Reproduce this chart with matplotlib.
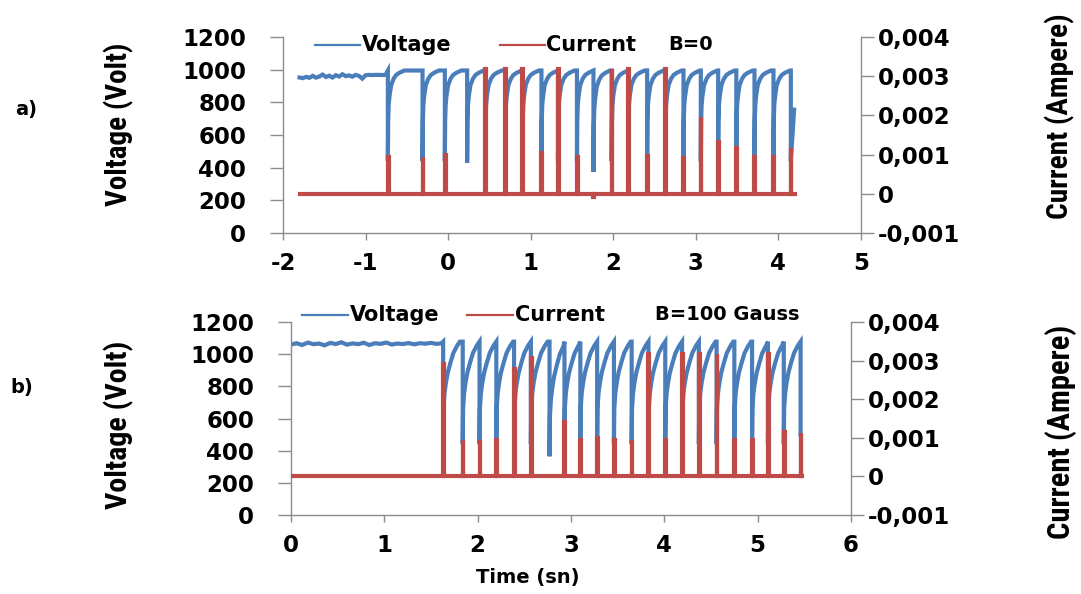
import matplotlib
matplotlib.use('Agg')
import matplotlib.pyplot as plt
from matplotlib.lines import Line2D
from matplotlib import font_manager as fm

plt.rcParams['axes.unicode_minus'] = False
plt.rcParams['font.family'] = ['DejaVu Sans']
plt.rcParams['font.weight'] = 'bold'

# ---------------- data: panel a (B=0) ----------------
a_flat_t = [-1.80, -1.76, -1.72, -1.68, -1.64, -1.60, -1.56, -1.52, -1.48, -1.44,
            -1.40, -1.36, -1.32, -1.28, -1.24, -1.20, -1.16, -1.12, -1.08, -1.04,
            -1.00, -0.96, -0.92, -0.88, -0.84, -0.80, -0.76]
a_flat_v = [952, 948, 956, 950, 962, 951, 958, 970, 955, 963,
            952, 966, 958, 972, 960, 965, 957, 968, 962, 945,
            966, 968, 967, 968, 968, 967, 968]
a_drop_t = [-0.73, -0.31, -0.04, 0.23, 0.45, 0.69, 0.90, 1.13, 1.33, 1.56, 1.76,
            1.98, 2.18, 2.41, 2.63, 2.85, 3.06, 3.27, 3.49, 3.71, 3.94, 4.15]
a_min_v = [440, 440, 440, 430, 440, 440, 440, 440, 440, 440, 375,
           440, 440, 440, 440, 440, 440, 440, 440, 440, 440, 440]
a_spike_i = [0.00094, 0.00094, 0.00099, 0.0, 0.00318, 0.00318, 0.00318, 0.00104, 0.00318,
             0.00094, -0.00007, 0.00318, 0.00318, 0.00097, 0.00318, 0.00091, 0.00195,
             0.00131, 0.00118, 0.00094, 0.00094, 0.00118]
a_peak_v = 995
a_rec_dt = [0.004, 0.01, 0.02, 0.04, 0.07, 0.10, 0.14, 0.20]
a_rec_frac = [0.45, 0.62, 0.72, 0.84, 0.91, 0.95, 0.975, 1.0]
a_end_t, a_end_v = 4.19, 755
a_cur_start, a_cur_end = -1.80, 4.20

# ---------------- data: panel b (B=100 Gauss) ----------------
b_flat_t = [0.00, 0.06, 0.12, 0.18, 0.24, 0.30, 0.36, 0.42, 0.48, 0.54,
            0.60, 0.66, 0.72, 0.78, 0.84, 0.90, 0.96, 1.02, 1.08, 1.14,
            1.20, 1.26, 1.32, 1.38, 1.44, 1.50, 1.56, 1.61]
b_flat_v = [1060, 1068, 1057, 1072, 1062, 1066, 1055, 1070, 1063, 1074,
            1059, 1067, 1062, 1071, 1057, 1068, 1064, 1072, 1060, 1066,
            1063, 1069, 1061, 1068, 1065, 1070, 1064, 1067]
b_drop_t = [1.63, 1.84, 2.02, 2.20, 2.39, 2.57, 2.77, 2.93, 3.10, 3.28, 3.46,
            3.65, 3.83, 4.01, 4.19, 4.37, 4.56, 4.75, 4.94, 5.11, 5.28, 5.46]
b_min_v = [440, 440, 440, 440, 440, 440, 365, 440, 440, 440, 440,
           440, 440, 440, 440, 440, 440, 440, 440, 440, 440, 500]
b_spike_i = [0.00290, 0.00094, 0.00094, 0.00094, 0.00278, 0.00306, 0.0, 0.00142,
             0.00094, 0.00099, 0.00094, 0.00094, 0.00318, 0.00094, 0.00318, 0.00318,
             0.00318, 0.00094, 0.00094, 0.00318, 0.00116, 0.00113]
b_peak_v = 1078
b_rec_dt = [0.004, 0.015, 0.03, 0.05, 0.08, 0.11, 0.15, 0.18]
b_rec_frac = [0.35, 0.50, 0.60, 0.70, 0.80, 0.89, 0.96, 1.0]
b_end_t, b_end_v = None, None
b_cur_start, b_cur_end = 0.0, 5.48

# ---------------- axis labels / ticks ----------------
v_ticks = [0, 200, 400, 600, 800, 1000, 1200]
i_ticks = [-0.001, 0, 0.001, 0.002, 0.003, 0.004]
i_tick_labels = ['-0,001', '0', '0,001', '0,002', '0,003', '0,004']
a_xticks = [-2, -1, 0, 1, 2, 3, 4, 5]
b_xticks = [0, 1, 2, 3, 4, 5, 6]

BLUE = '#4A7EBB'
RED = '#BE4B48'
GRAY = '#8C8C8C'
W, H = 1081, 594


def pick_narrow():
    for fam in ['Liberation Sans Narrow', 'DejaVu Sans Condensed', 'Roboto Condensed',
                'Open Sans Condensed', 'Noto Sans Condensed']:
        try:
            fm.findfont(fm.FontProperties(family=fam, weight='bold'),
                        fallback_to_default=False)
            return fam, 'normal'
        except Exception:
            pass
    for fam in ['DejaVu Sans', 'Noto Sans', 'Open Sans']:
        try:
            f = fm.findfont(fm.FontProperties(family=fam, weight='bold', stretch='condensed'),
                            fallback_to_default=False)
            if 'ondensed' in f or 'arrow' in f:
                return fam, 'condensed'
        except Exception:
            pass
    return 'Roboto', 'normal'


NARROW_FAM, NARROW_STRETCH = pick_narrow()


def voltage_path(flat_t, flat_v, drop_t, min_v, peak_v, rec_dt, rec_frac, end_t, end_v):
    t = list(flat_t)
    v = list(flat_v)
    n = len(drop_t)
    for i in range(n):
        T, m = drop_t[i], min_v[i]
        t += [T, T]
        v += [peak_v, m]
        if i < n - 1:
            period = drop_t[i + 1] - T
            for dt, f in zip(rec_dt, rec_frac):
                if dt < period - 0.002:
                    t.append(T + dt)
                    v.append(m + f * (peak_v - m))
    if end_t is not None:
        t.append(end_t)
        v.append(end_v)
    return t, v


def current_path(start, end, drop_t, spike_i, w):
    t = [start]
    c = [0.0]
    for T, h in zip(drop_t, spike_i):
        t += [T, T, T + w, T + w]
        c += [0.0, h, h, 0.0]
    t.append(end)
    c.append(0.0)
    return t, c


def style_axes(ax, axr, xlim, xticks):
    ax.set_xlim(*xlim)
    ax.set_ylim(0, 1200)
    axr.set_ylim(-0.001, 0.004)
    ax.set_xticks(xticks)
    ax.set_xticklabels([str(x) for x in xticks])
    ax.set_yticks(v_ticks)
    ax.set_yticklabels([str(v) for v in v_ticks])
    axr.set_yticks(i_ticks)
    axr.set_yticklabels(i_tick_labels)
    for a in (ax, axr):
        for s in a.spines.values():
            s.set_color(GRAY)
            s.set_linewidth(1.0)
        a.spines['top'].set_visible(False)
    ax.spines['right'].set_visible(False)
    axr.spines['left'].set_visible(False)
    axr.spines['bottom'].set_visible(False)
    ax.tick_params(axis='y', direction='out', length=9.5, width=1, color=GRAY,
                   pad=17, labelsize=16.5)
    ax.tick_params(axis='x', direction='out', length=5, width=1, color=GRAY,
                   pad=9, labelsize=16.5)
    axr.tick_params(axis='y', direction='out', length=9, width=1, color=GRAY,
                    pad=3, labelsize=16.5)
    ax.patch.set_visible(False)
    axr.patch.set_visible(False)


fig = plt.figure(figsize=(W / 100, H / 100), dpi=100)
fig.patch.set_facecolor('white')

panels = [
    dict(rect=[283 / W, 1 - 233 / H, (861 - 283) / W, (233 - 37) / H], xlim=(-2, 5),
         xticks=a_xticks, flat_t=a_flat_t, flat_v=a_flat_v, drop_t=a_drop_t, min_v=a_min_v,
         spike=a_spike_i, peak=a_peak_v, rdt=a_rec_dt, rfr=a_rec_frac, end_t=a_end_t,
         end_v=a_end_v, cs=a_cur_start, ce=a_cur_end, w=0.008),
    dict(rect=[291 / W, 1 - 515 / H, (851 - 291) / W, (515 - 322) / H], xlim=(0, 6),
         xticks=b_xticks, flat_t=b_flat_t, flat_v=b_flat_v, drop_t=b_drop_t, min_v=b_min_v,
         spike=b_spike_i, peak=b_peak_v, rdt=b_rec_dt, rfr=b_rec_frac, end_t=b_end_t,
         end_v=b_end_v, cs=b_cur_start, ce=b_cur_end, w=0.008),
]

for p in panels:
    ax = fig.add_axes(p['rect'])
    axr = ax.twinx()
    vt, vv = voltage_path(p['flat_t'], p['flat_v'], p['drop_t'], p['min_v'], p['peak'],
                          p['rdt'], p['rfr'], p['end_t'], p['end_v'])
    ax.plot(vt, vv, color=BLUE, lw=3.0, solid_joinstyle='miter')
    ct, cc = current_path(p['cs'], p['ce'], p['drop_t'], p['spike'], p['w'])
    axr.plot(ct, cc, color=RED, lw=3.0, solid_joinstyle='miter')
    style_axes(ax, axr, p['xlim'], p['xticks'])


def fx(x):
    return x / W


def fy(y):
    return 1 - y / H


def legend_row(y, bx0, bx1, vx, rx0, rx1, cx, bxt, btxt):
    fig.add_artist(Line2D([fx(bx0), fx(bx1)], [fy(y), fy(y)], color=BLUE, lw=1.6,
                          transform=fig.transFigure))
    fig.add_artist(Line2D([fx(rx0), fx(rx1)], [fy(y), fy(y)], color=RED, lw=1.6,
                          transform=fig.transFigure))
    fig.text(fx(vx), fy(y), 'Voltage', ha='left', va='center', fontsize=15,
             fontweight='bold')
    fig.text(fx(cx), fy(y), 'Current', ha='left', va='center', fontsize=15,
             fontweight='bold')
    fig.text(fx(bxt), fy(y), btxt, ha='left', va='center', fontsize=14,
             fontweight='bold')


legend_row(45, 315, 360, 362, 500, 545, 546, 668, 'B=0')
legend_row(315, 302, 348, 350, 467, 513, 515, 655, 'B=100 Gauss')

renderer = fig.canvas.get_renderer()


def fit_label(x, y, s, target_len):
    t = fig.text(fx(x), fy(y), s, rotation=90, ha='center', va='center', fontsize=21,
                 fontweight='bold', family=NARROW_FAM, fontstretch=NARROW_STRETCH)
    L = t.get_window_extent(renderer).height
    t.set_fontsize(21 * target_len / L)
    return t


fit_label(119, 124, 'Voltage (Volt)', 163)
fit_label(119, 425, 'Voltage (Volt)', 168)
fit_label(1060, 116, 'Current (Ampere)', 205)
fit_label(1061, 432, 'Current (Ampere)', 215)

fig.text(fx(26), fy(110), 'a)', ha='center', va='center', fontsize=14, fontweight='bold')
fig.text(fx(22), fy(388), 'b)', ha='center', va='center', fontsize=14, fontweight='bold')
fig.text(fx(528), fy(578), 'Time (sn)', ha='center', va='center', fontsize=14,
         fontweight='bold')

fig.savefig('out.png', dpi=100, facecolor='white')
